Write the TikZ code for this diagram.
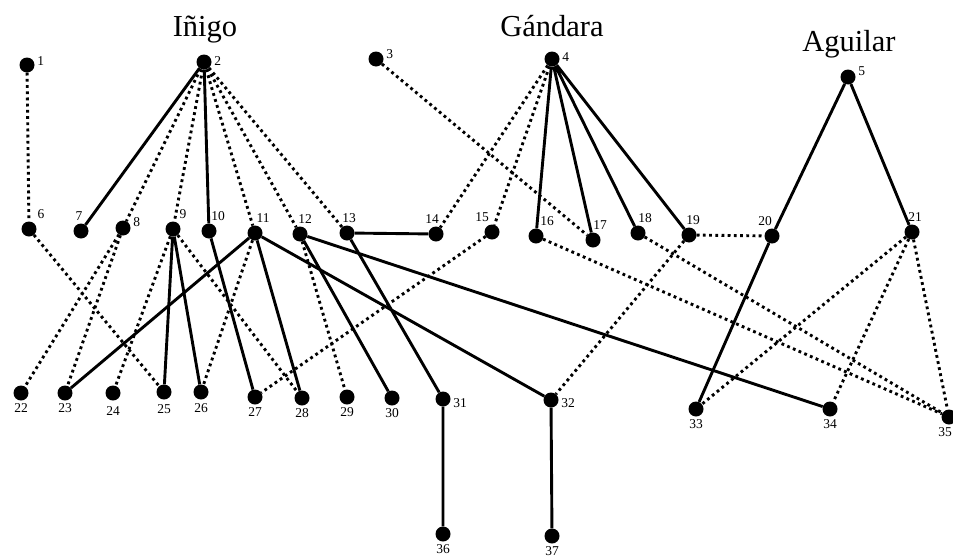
\documentclass[tikz,border=0pt]{standalone}
\usepackage{fontspec}
\setmainfont{Liberation Serif}
\tikzset{
  dot/.style={circle, fill=black, minimum size=15pt, inner sep=0pt},
  lab/.style={font=\fontsize{13.5}{14}\selectfont, inner sep=1.5pt},
  fam/.style={font=\fontsize{30.5}{32}\selectfont, anchor=base, inner sep=0pt},
  tie/.style={draw=black, line width=2.9pt},
  loose/.style={draw=black, line width=2.9pt, dash pattern=on 2.8pt off 3.4pt}
}
\begin{document}
\begin{tikzpicture}[x=1pt,y=-1pt,label distance=1pt]
  \useasboundingbox (0,0) rectangle (953,557);
  % families
  \node[fam] (inigo) at (205,36) {Iñigo};
  \node[fam] (gandara) at (552,36) {Gándara};
  \node[fam] (aguilar) at (849,51) {Aguilar};
  % first generation
  \node[dot,label={[lab,yshift=4pt]right:1}] (n1) at (27,65) {};
  \node[dot,label={[lab,yshift=1pt]right:2}] (n2) at (204,62) {};
  \node[dot,label={[lab,yshift=5pt]right:3}] (n3) at (376,59) {};
  \node[dot,label={[lab,yshift=2pt]right:4}] (n4) at (552,59) {};
  \node[dot,label={[lab,yshift=6pt]right:5}] (n5) at (848,77) {};
  % second generation
  \node[dot,label={[lab,xshift=12pt]above:6}] (n6) at (29,229) {};
  \node[dot,label={[lab,xshift=-2pt]above:7}] (n7) at (81,231) {};
  \node[dot,label={[lab,yshift=6pt]right:8}] (n8) at (123,228) {};
  \node[dot,label={[lab,xshift=10pt]above:9}] (n9) at (173,229) {};
  \node[dot,label={[lab,xshift=9pt]above:10}] (n10) at (209,231) {};
  \node[dot,label={[lab,xshift=8pt]above:11}] (n11) at (255,233) {};
  \node[dot,label={[lab,xshift=5pt]above:12}] (n12) at (300,234) {};
  \node[dot,label={[lab,xshift=2pt]above:13}] (n13) at (347,233) {};
  \node[dot,label={[lab,xshift=-4pt]above:14}] (n14) at (436,234) {};
  \node[dot,label={[lab,xshift=-10pt]above:15}] (n15) at (492,232) {};
  \node[dot,label={[lab,xshift=11pt]above:16}] (n16) at (536,236) {};
  \node[dot,label={[lab,xshift=7pt]above:17}] (n17) at (593,240) {};
  \node[dot,label={[lab,xshift=7pt]above:18}] (n18) at (638,233) {};
  \node[dot,label={[lab,xshift=4pt]above:19}] (n19) at (689,235) {};
  \node[dot,label={[lab,xshift=-7pt]above:20}] (n20) at (772,236) {};
  \node[dot,label={[lab,xshift=3pt]above:21}] (n21) at (912,232) {};
  % third generation
  \node[dot,label={[lab]below:22}] (n22) at (21,393) {};
  \node[dot,label={[lab]below:23}] (n23) at (65,393) {};
  \node[dot,label={[lab,yshift=-3pt]below:24}] (n24) at (113,393) {};
  \node[dot,label={[lab,yshift=-2pt]below:25}] (n25) at (164,392) {};
  \node[dot,label={[lab,yshift=-1pt]below:26}] (n26) at (201,392) {};
  \node[dot,label={[lab]below:27}] (n27) at (255,397) {};
  \node[dot,label={[lab]below:28}] (n28) at (302,398) {};
  \node[dot,label={[lab]below:29}] (n29) at (347,397) {};
  \node[dot,label={[lab]below:30}] (n30) at (392,398) {};
  \node[dot,label={[lab,yshift=-4pt]right:31}] (n31) at (443,399) {};
  \node[dot,label={[lab,yshift=-3pt]right:32}] (n32) at (551,400) {};
  \node[dot,label={[lab]below:33}] (n33) at (696,409) {};
  \node[dot,label={[lab]below:34}] (n34) at (830,409) {};
  \node[dot,label={[lab,xshift=-4pt]below:35}] (n35) at (949,417) {};
  % fourth generation
  \node[dot,label={[lab]below:36}] (n36) at (443,534) {};
  \node[dot,label={[lab]below:37}] (n37) at (552,536) {};
  % strong ties
  \draw[tie] (n2) -- (n7) (n2) -- (n10);
  \draw[tie] (n4) -- (n16) (n4) -- (n17) (n4) -- (n18) (n4) -- (n19);
  \draw[tie] (n5) -- (n20) (n5) -- (n21);
  \draw[tie] (n9) -- (n25) (n9) -- (n26) (n10) -- (n27);
  \draw[tie] (n11) -- (n23) (n11) -- (n28) (n11) -- (n32);
  \draw[tie] (n12) -- (n30) (n12) -- (n34);
  \draw[tie] (n13) -- (n14) (n13) -- (n31);
  \draw[tie] (n20) -- (n33) (n31) -- (n36) (n32) -- (n37);
  % weak ties
  \draw[loose] (n1) -- (n6) (n3) -- (n17);
  \draw[loose] (n2) -- (n8) (n2) -- (n9) (n2) -- (n11) (n2) -- (n12) (n2) -- (n13);
  \draw[loose] (n4) -- (n14) (n4) -- (n15);
  \draw[loose] (n6) -- (n25) (n8) -- (n22) (n8) -- (n23);
  \draw[loose] (n9) -- (n24) (n9) -- (n28) (n11) -- (n26) (n12) -- (n29);
  \draw[loose] (n15) -- (n27) (n16) -- (n35) (n18) -- (n35);
  \draw[loose] (n19) -- (n20) (n19) -- (n32);
  \draw[loose] (n21) -- (n33) (n21) -- (n34) (n21) -- (n35);
\end{tikzpicture}
\end{document}
